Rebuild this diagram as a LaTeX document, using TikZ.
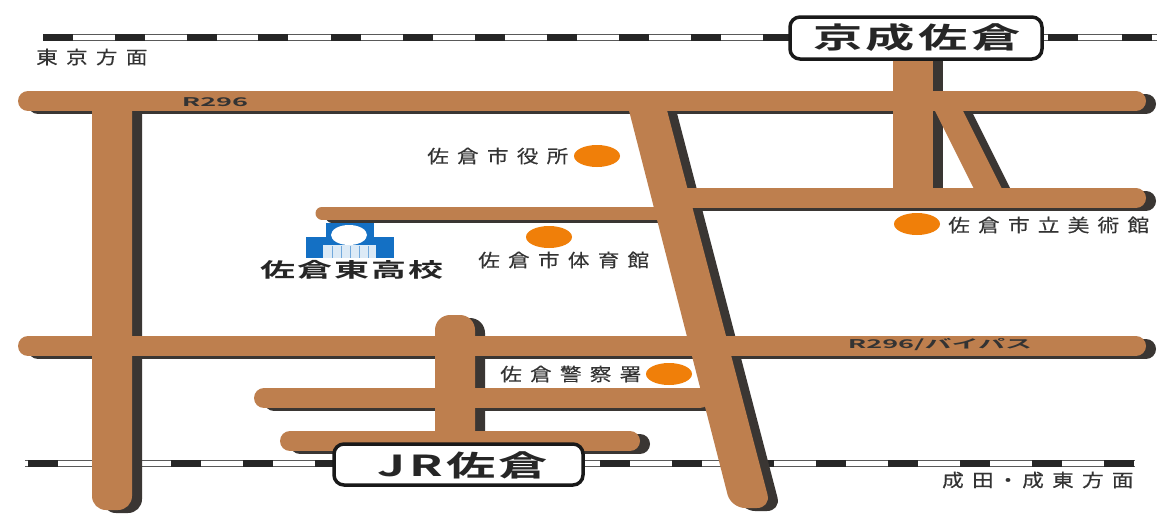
\documentclass[tikz,border=0pt]{standalone}
\usepackage{fontspec}
\setmainfont{Noto Sans CJK JP}
\newfontfamily\jplabel[FakeStretch=1.2,FakeBold=0.25,LetterSpace=46]{Noto Sans CJK JP}
\newfontfamily\jpstation[FakeStretch=1.7,LetterSpace=12]{Noto Sans CJK JP Bold}
\newfontfamily\jpschool[FakeStretch=1.75,LetterSpace=10]{Noto Sans CJK JP Bold}
\newfontfamily\jproad[FakeStretch=2.25]{Noto Sans CJK JP Bold}
\definecolor{roadc}{HTML}{BE7F4E}
\definecolor{shadowc}{HTML}{3A3633}
\definecolor{dotc}{HTML}{F07F09}
\definecolor{schoolc}{HTML}{1470C4}
\definecolor{textc}{HTML}{333333}
\tikzset{
  x=1pt,y=-1pt,
  lbl/.style={anchor=west,inner sep=0pt,text=textc,font=\fontsize{18}{18}\selectfont\jplabel},
  stationlbl/.style={anchor=center,inner sep=0pt,text=black!85,font=\fontsize{29}{29}\selectfont\jpstation},
  roadlbl/.style={anchor=center,inner sep=0pt,text=black!80,font=\fontsize{12}{12}\selectfont\jproad},
  station/.style={draw=black!90,line width=3.5pt,rounded corners=10pt,fill=white},
}
\newcommand{\roads}[1]{%
  \draw[#1,line cap=round,line width=20pt]
    (28,101) -- (1136,101)
    (28,346) -- (1136,346)
    (680,198) -- (1136,198)
    (264,398) -- (700,398)
    (290,441) -- (630,441);
  \draw[#1,line cap=round,line width=13pt] (322,213) -- (670,213);
  \fill[#1,rounded corners=14pt] (92,92) -- (132,92) -- (132,510) -- (92,510) -- cycle;
  \fill[#1] (893,55) rectangle (933,198);
  \fill[#1,rounded corners=15pt] (435,315) -- (475,315) -- (475,470) -- (435,470) -- cycle;
  \fill[#1,rounded corners=14pt] (625,95) -- (663,95) -- (771,508) -- (731,508) -- cycle;
  \fill[#1] (932,105) -- (960,105) -- (1005,195) -- (977,195) -- cycle;
}
\begin{document}
\begin{tikzpicture}
\useasboundingbox (0,0) rectangle (1157,514);
\fill[white] (0,0) rectangle (1157,514);
% rails
\draw[black!65,line width=0.8pt] (43,34) -- (1157,34) (43,40) -- (1157,40);
\draw[black!65,line width=0.8pt] (25,460) -- (1135,460) (25,466) -- (1135,466);
\foreach \s in {43,115,187,258,331,403,475,547,619,691,763,1048,1122}
  \fill[black!85] (\s,33.5) rectangle (\s+30,40.5);
\foreach \s in {28,100,171,243,315,600,672,744,816,888,960,1032,1104}
  \fill[black!85] (\s,459.5) rectangle (\s+30,466.5);
% roads
\begin{scope}[shift={(10,3)}]
  \roads{shadowc}
\end{scope}
\roads{roadc}
% stations
\draw[station] (790,17) rectangle (1042,59);
\node[stationlbl] (keisei) at (917,38) {京成佐倉};
\draw[station] (334,444) rectangle (583,485);
\node[stationlbl] (jr) at (463,465) {JR佐倉};
% labels
\node[lbl] (east) at (36,57) {東京方面};
\node[lbl] (narita) at (942,480) {成田\kern3.5pt ・\kern3.5pt 成東方面};
\node[lbl] (city) at (427,156) {佐倉市役所};
\node[lbl] (gym) at (478,260) {佐倉市体育館};
\node[lbl] (museum) at (948,225) {佐倉市立美術館};
\node[lbl] (police) at (500,374) {佐倉警察署};
\node[roadlbl] (r296) at (215,102) {R296};
\node[roadlbl] (bypass) at (940,345) {R296/バイパス};
\fill[dotc] (597,156) ellipse [x radius=23,y radius=11];
\fill[dotc] (549,237) ellipse [x radius=23,y radius=11];
\fill[dotc] (917,224) ellipse [x radius=23,y radius=11];
\fill[dotc] (669,374) ellipse [x radius=23,y radius=11];
% school
\fill[schoolc] (326,223) rectangle (374,238);
\fill[schoolc] (306,237) rectangle (394,258);
\fill[white] (349,235) ellipse [x radius=18,y radius=10];
\fill[white!85!schoolc] (323,245) rectangle (376,258);
\foreach \s in {332,341,350,359,368}
  \fill[schoolc!60] (\s,246) rectangle (\s+1,258);
\node[anchor=west,inner sep=0pt,text=black!85,font=\fontsize{20}{20}\selectfont\jpschool] (school) at (260,270) {佐倉東高校};
\end{tikzpicture}
\end{document}
